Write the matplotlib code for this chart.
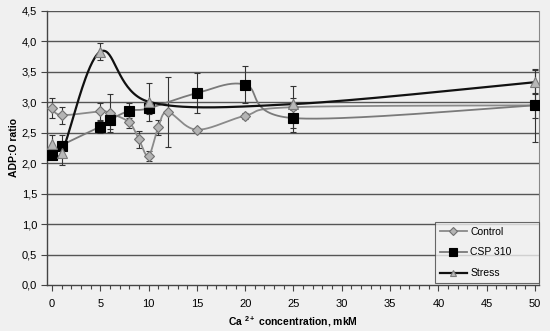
import matplotlib
matplotlib.use('Agg')
import matplotlib.pyplot as plt
import numpy as np
from matplotlib.lines import Line2D
from matplotlib.ticker import MultipleLocator, FuncFormatter

plt.rcParams['font.family'] = ['Liberation Sans', 'DejaVu Sans']
plt.rcParams['mathtext.fontset'] = 'custom'
plt.rcParams['mathtext.rm'] = 'Liberation Sans'
plt.rcParams['mathtext.bf'] = 'Liberation Sans:bold'

# -------------------------------
# Data: ADP:O ratio vs Ca2+ concentration
# -------------------------------
ctrl_x = [0, 1, 5, 6, 8, 9, 10, 11, 12, 15, 20, 25, 50]
ctrl_y = [2.91, 2.79, 2.85, 2.82, 2.67, 2.39, 2.12, 2.59, 2.84, 2.55, 2.78, 2.92, 2.95]
ctrl_err = [0.16, 0.14, 0.14, 0.31, 0.10, 0.14, 0.08, 0.12, 0.58, 0.03, 0.05, 0.35, 0.21]

csp_x = [0, 1, 5, 6, 8, 10, 15, 20, 25, 50]
csp_y = [2.14, 2.29, 2.60, 2.71, 2.86, 2.90, 3.15, 3.29, 2.74, 2.95]
csp_err = [0.05, 0.17, 0.10, 0.15, 0.12, 0.10, 0.33, 0.30, 0.22, 0.60]

stress_x = [0, 1, 5, 10, 25, 50]
stress_y = [2.32, 2.17, 3.83, 3.01, 2.97, 3.33]
stress_err = [0.14, 0.20, 0.14, 0.31, 0.10, 0.20]

x_ticks = [0, 5, 10, 15, 20, 25, 30, 35, 40, 45, 50]


def smooth(xs, ys, n=40):
    # Bezier smoothing through the points (same idea as a spreadsheet "smoothed line")
    p = np.column_stack([xs, ys]).astype(float)
    out = []
    for i in range(len(p) - 1):
        p0 = p[i - 1] if i > 0 else p[i]
        p3 = p[i + 2] if i + 2 < len(p) else p[i + 1]
        c1 = p[i] + (p[i + 1] - p0) / 6
        c2 = p[i + 1] - (p3 - p[i]) / 6
        t = np.linspace(0, 1, n)[:, None]
        seg = ((1 - t) ** 3 * p[i] + 3 * (1 - t) ** 2 * t * c1
               + 3 * (1 - t) * t ** 2 * c2 + t ** 3 * p[i + 1])
        out.append(seg)
    out = np.vstack(out)
    return out[:, 0], out[:, 1]


bg = '#f0f0f0'
fig = plt.figure(figsize=(5.5, 3.31), dpi=100, facecolor=bg)
ax = fig.add_axes([0.0855, 0.139, 0.8945, 0.828], facecolor=bg)

# grid lines
for yv in np.arange(0.5, 4.51, 0.5):
    ax.axhline(yv, color='#555555', lw=1.0, zorder=1)

series = [
    (ctrl_x, ctrl_y, ctrl_err, '#8a8a8a', 1.3, 'D', 5.5, '#b4b4b4', '#707070', 'Control'),
    (csp_x, csp_y, csp_err, '#7a7a7a', 1.3, 's', 7, '#000000', '#000000', 'CSP 310'),
    (stress_x, stress_y, stress_err, '#111111', 1.6, '^', 6.5, '#b8b8b8', '#7a7a7a', 'Stress'),
]

handles = []
for i, (x, y, e, lc, lw, mk, ms, mfc, mec, lab) in enumerate(series):
    sx, sy = smooth(x, y)
    ax.plot(sx, sy, color=lc, lw=lw, zorder=3 + i)
    ax.errorbar(x, y, yerr=e, fmt='none', ecolor='#333333', elinewidth=0.8,
                capsize=2.5, capthick=0.8, zorder=2)
    ax.plot(x, y, ls='none', marker=mk, ms=ms, mfc=mfc, mec=mec, mew=0.8,
            zorder=6 + i)
    handles.append(Line2D([], [], color=lc, lw=lw, marker=mk, ms=ms - 1.5,
                          mfc=mfc, mec=mec, mew=0.8, label=lab))

ax.set_xlim(-0.5, 50.4)
ax.set_ylim(0, 4.5)
ax.set_xticks(x_ticks)
ax.xaxis.set_minor_locator(MultipleLocator(1))
ax.yaxis.set_major_locator(MultipleLocator(0.5))
ax.yaxis.set_major_formatter(FuncFormatter(lambda v, p: f'{v:.1f}'.replace('.', ',')))
ax.tick_params(axis='both', which='major', labelsize=8, length=4, width=0.8,
               color='#444444', direction='out', pad=6)
ax.tick_params(axis='y', which='major', pad=3)
ax.tick_params(axis='x', which='minor', length=3, width=0.8, color='#444444')

for s in ['left', 'bottom']:
    ax.spines[s].set_color('#444444')
    ax.spines[s].set_linewidth(1.0)
ax.spines['right'].set_color('#888888')
ax.spines['right'].set_linewidth(0.8)
ax.spines['top'].set_visible(False)

ax.set_ylabel('ADP:O ratio', fontsize=7.5, fontweight='bold', labelpad=2)
ax.set_xlabel(r'Ca $\mathbf{^{2+}}$ concentration, mkM', fontsize=7.5,
              fontweight='bold', labelpad=4)

leg = ax.legend(handles=handles, loc='lower left', bbox_to_anchor=(0.789, 0.007, 0.211, 0.23),
                mode='expand', borderaxespad=0, fontsize=7.5, frameon=True, fancybox=False,
                handlelength=2.6, handletextpad=0.3, labelspacing=1.05, borderpad=0.45)
leg.get_frame().set_edgecolor('#444444')
leg.get_frame().set_facecolor(bg)
leg.get_frame().set_linewidth(0.8)

fig.savefig('out.png', dpi=100, facecolor=bg)
